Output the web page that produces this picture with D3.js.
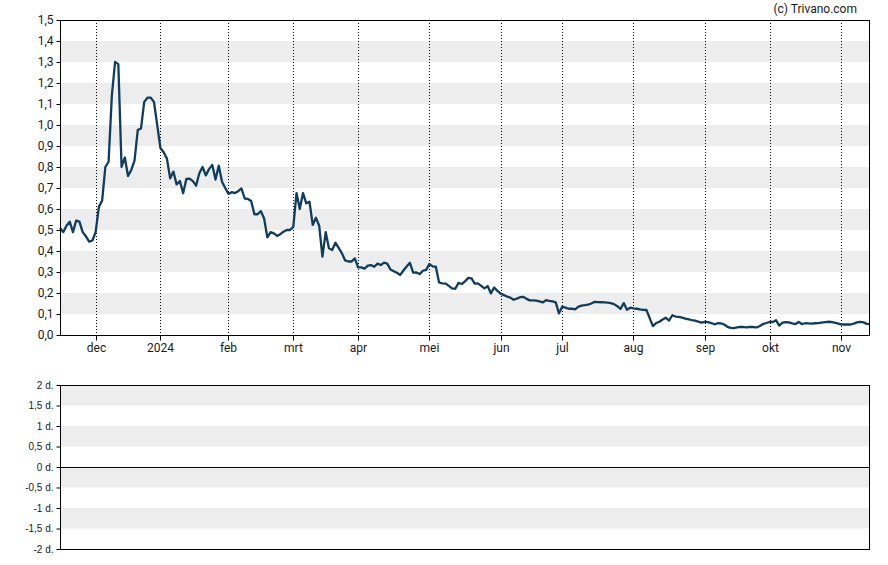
<!DOCTYPE html>
<html>
<head>
<meta charset="utf-8">
<script src="https://cdn.jsdelivr.net/npm/d3@7"></script>
<style>
  html, body { margin: 0; padding: 0; background: #fff; }
  svg { display: block; }
</style>
</head>
<body>
<svg id="chart" width="888" height="565"></svg>
<script>
// ---------------- DATA ----------------
const firstDay = "2023-11-15";
const lastDay = "2024-11-14";
const closedDays = ["2023-11-23","2023-12-25","2024-01-01","2024-01-15","2024-02-19",
  "2024-03-29","2024-05-27","2024-06-19","2024-07-04","2024-09-02","2024-10-14"];

const prices = [
  0.51,0.49,0.52,0.54,0.49,0.545,0.54,0.49,0.47,0.445,
  0.45,0.49,0.61,0.64,0.80,0.825,1.14,1.30,1.29,0.80,
  0.845,0.757,0.786,0.83,0.976,0.984,1.11,1.13,1.13,1.11,
  1.00,0.89,0.87,0.84,0.746,0.778,0.717,0.733,0.675,0.743,
  0.745,0.733,0.711,0.77,0.80,0.76,0.79,0.81,0.74,0.806,
  0.73,0.70,0.672,0.68,0.676,0.685,0.698,0.65,0.648,0.638,
  0.575,0.575,0.59,0.555,0.465,0.49,0.484,0.472,0.48,0.492,
  0.50,0.50,0.515,0.676,0.60,0.676,0.627,0.635,0.524,0.558,
  0.52,0.373,0.49,0.413,0.405,0.44,0.415,0.39,0.355,0.35,
  0.35,0.365,0.322,0.322,0.316,0.33,0.333,0.325,0.34,0.333,
  0.345,0.34,0.312,0.304,0.296,0.286,0.307,0.326,0.344,0.297,
  0.298,0.29,0.306,0.31,0.338,0.327,0.325,0.25,0.246,0.245,
  0.234,0.222,0.22,0.248,0.243,0.255,0.272,0.27,0.245,0.246,
  0.234,0.222,0.233,0.198,0.226,0.21,0.197,0.19,0.183,0.178,
  0.168,0.173,0.18,0.182,0.172,0.165,0.165,0.164,0.16,0.155,
  0.166,0.162,0.16,0.155,0.103,0.135,0.13,0.125,0.126,0.122,
  0.135,0.14,0.142,0.145,0.15,0.158,0.157,0.156,0.155,0.154,
  0.152,0.147,0.137,0.124,0.152,0.12,0.13,0.127,0.125,0.122,
  0.12,0.119,0.08,0.042,0.057,0.063,0.074,0.082,0.069,0.094,
  0.088,0.086,0.083,0.078,0.075,0.071,0.068,0.064,0.059,0.063,
  0.061,0.057,0.051,0.056,0.055,0.05,0.039,0.034,0.033,0.036,
  0.039,0.038,0.036,0.039,0.038,0.036,0.043,0.052,0.057,0.062,
  0.062,0.07,0.045,0.059,0.061,0.06,0.055,0.052,0.062,0.052,
  0.056,0.055,0.054,0.056,0.057,0.059,0.061,0.063,0.062,0.059,
  0.055,0.051,0.05,0.05,0.05,0.054,0.06,0.063,0.06,0.053,
  0.052
];

const monthLabels = ["jan","feb","mrt","apr","mei","jun","jul","aug","sep","okt","nov","dec"];
const priceTicks = [0,0.1,0.2,0.3,0.4,0.5,0.6,0.7,0.8,0.9,1.0,1.1,1.2,1.3,1.4,1.5];
const lowerTicks = [-2,-1.5,-1,-0.5,0,0.5,1,1.5,2];
const creditText = "(c) Trivano.com";

// ---------------- CALENDAR ----------------
const parse = d3.utcParse("%Y-%m-%d");
const fmtDay = d3.utcFormat("%Y-%m-%d");
const closedSet = new Set(closedDays);
const tradingDays = d3.utcDays(parse(firstDay), d3.utcDay.offset(parse(lastDay), 1))
  .filter(d => d.getUTCDay() !== 0 && d.getUTCDay() !== 6 && !closedSet.has(fmtDay(d)));
const n = Math.min(tradingDays.length, prices.length);
const series = prices.slice(0, n).map((v, i) => ({ i, date: tradingDays[i], v }));

// month starts
const monthStarts = [];
for (let i = 1; i < n; i++) {
  if (tradingDays[i].getUTCMonth() !== tradingDays[i - 1].getUTCMonth()) {
    const m = tradingDays[i].getUTCMonth();
    monthStarts.push({ i, label: m === 0 ? String(tradingDays[i].getUTCFullYear()) : monthLabels[m] });
  }
}

// ---------------- LAYOUT ----------------
const svg = d3.select("#chart");
const left = 60, right = 870;
const top1 = 20, bottom1 = 335;
const top2 = 385, bottom2 = 549;
const font = "Roboto, 'Liberation Sans', Arial, sans-serif";

const x = d3.scaleLinear().domain([0, n - 1]).range([left, right]);
const y = d3.scaleLinear().domain([0, 1.5]).range([bottom1, top1]);
const y2 = d3.scaleLinear().domain([-2, 2]).range([bottom2, top2]);

// ---------- main panel bands ----------
const g1 = svg.append("g");
g1.selectAll("rect.band")
  .data(priceTicks.slice(0, -1).map((t, k) => ({ lo: t, hi: priceTicks[k + 1], k })).filter(d => d.k % 2 === 1))
  .join("rect")
  .attr("x", left).attr("width", right - left)
  .attr("y", d => y(d.hi)).attr("height", d => y(d.lo) - y(d.hi))
  .attr("fill", "#ededed");

// dotted month gridlines
g1.selectAll("line.grid")
  .data(monthStarts)
  .join("line")
  .attr("x1", d => Math.round(x(d.i)) + 0.5).attr("x2", d => Math.round(x(d.i)) + 0.5)
  .attr("y1", top1).attr("y2", bottom1)
  .attr("stroke", "#000").attr("stroke-width", 1).attr("stroke-dasharray", "1,2");

// line
const line = d3.line().x(d => x(d.i)).y(d => y(d.v));
g1.append("path")
  .datum(series)
  .attr("d", line)
  .attr("fill", "none")
  .attr("stroke", "#0f3d5e")
  .attr("stroke-width", 2.3)
  .attr("stroke-linejoin", "round");

// frame
g1.append("rect")
  .attr("x", left + 0.5).attr("y", top1 + 0.5)
  .attr("width", right - left - 1).attr("height", bottom1 - top1)
  .attr("fill", "none").attr("stroke", "#000").attr("stroke-width", 1);

// y axis
const yAxis = d3.axisLeft(y).tickValues(priceTicks).tickSize(4).tickPadding(3)
  .tickFormat(d => d3.format(".1f")(d).replace(".", ","));
const ya = g1.append("g").attr("transform", `translate(${left + 0.5},0)`).call(yAxis);
ya.select(".domain").remove();
ya.selectAll("text").attr("font-family", font).attr("font-size", 12).attr("fill", "#1a1a1a");
ya.selectAll("line").attr("stroke", "#000");

// x axis
const xAxis = d3.axisBottom(x).tickValues(monthStarts.map(d => d.i)).tickSize(5).tickPadding(3)
  .tickFormat((d, k) => monthStarts[k].label);
const xa = g1.append("g").attr("transform", `translate(0,${bottom1 + 0.5})`).call(xAxis);
xa.select(".domain").remove();
xa.selectAll(".tick").attr("transform", d => `translate(${Math.round(x(d)) + 0.5},0)`);
xa.selectAll("text").attr("font-family", font).attr("font-size", 12).attr("fill", "#1a1a1a");
xa.selectAll("line").attr("stroke", "#000");

// credit
svg.append("text")
  .attr("x", 857).attr("y", 13)
  .attr("text-anchor", "end")
  .attr("font-family", font).attr("font-size", 12).attr("fill", "#1a1a1a")
  .text(creditText);

// ---------- lower panel ----------
const g2 = svg.append("g");
g2.selectAll("rect.band")
  .data(lowerTicks.slice(0, -1).map((t, k) => ({ lo: t, hi: lowerTicks[k + 1], k })).filter(d => d.k % 2 === 1))
  .join("rect")
  .attr("x", left).attr("width", right - left)
  .attr("y", d => y2(d.hi)).attr("height", d => y2(d.lo) - y2(d.hi))
  .attr("fill", "#ededed");

g2.append("line")
  .attr("x1", left).attr("x2", right)
  .attr("y1", Math.round(y2(0)) + 0.5).attr("y2", Math.round(y2(0)) + 0.5)
  .attr("stroke", "#000").attr("stroke-width", 1);

g2.append("rect")
  .attr("x", left + 0.5).attr("y", top2 + 0.5)
  .attr("width", right - left - 1).attr("height", bottom2 - top2)
  .attr("fill", "none").attr("stroke", "#000").attr("stroke-width", 1);

const y2Axis = d3.axisLeft(y2).tickValues(lowerTicks).tickSize(4).tickPadding(3)
  .tickFormat(d => String(d).replace(".", ",") + " d.");
const y2a = g2.append("g").attr("transform", `translate(${left + 0.5},0)`).call(y2Axis);
y2a.select(".domain").remove();
y2a.selectAll("text").attr("font-family", "'Liberation Sans', Arial, sans-serif").attr("font-size", 10).attr("fill", "#1a1a1a");
y2a.selectAll("line").attr("stroke", "#000");
</script>
</body>
</html>
